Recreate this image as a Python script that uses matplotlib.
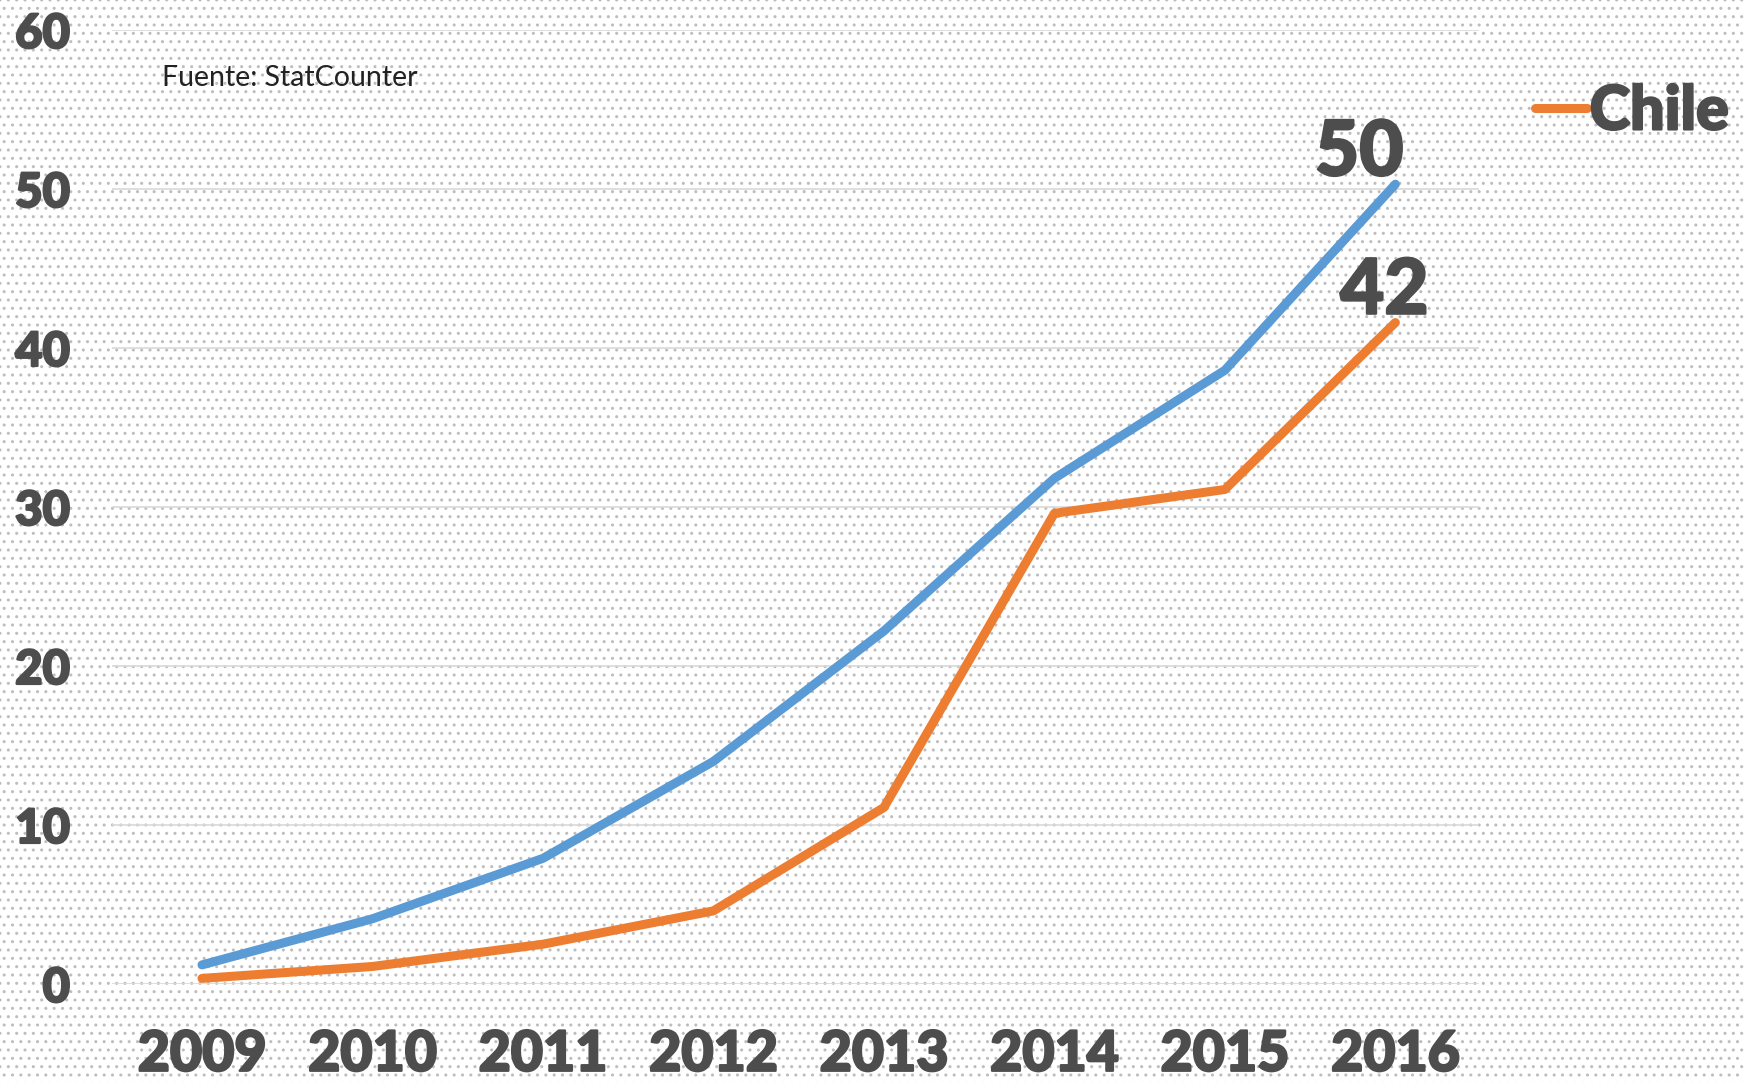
import matplotlib
matplotlib.use("Agg")
from matplotlib import pyplot as plt
from matplotlib.patches import Rectangle
import matplotlib.patheffects as pe

years = [2009, 2010, 2011, 2012, 2013, 2014, 2015, 2016]
world = [1.2, 4.1, 7.9, 14.0, 22.2, 31.8, 38.6, 50.3]
chile = [0.35, 1.1, 2.5, 4.6, 11.1, 29.6, 31.1, 41.6]
yticks = [0, 10, 20, 30, 40, 50, 60]
end_labels = ["50", "42"]

blue = "#5b9bd5"
orange = "#ed7d31"
grey = "#4d4d4d"

plt.rcParams["font.family"] = ["Lato", "DejaVu Sans"]
plt.rcParams["hatch.linewidth"] = 1.0

fig = plt.figure(figsize=(17.44, 10.82), dpi=100)
fig.patch.set_facecolor("white")
# dotted paper background
bg = Rectangle((0, 0), 1, 1, transform=fig.transFigure, facecolor="white",
               edgecolor="#bdbdbd", hatch="..", linewidth=0, zorder=-10)
fig.patches.append(bg)

ax = fig.add_axes([0.064, 0.0906, 0.784, 0.8817])
ax.set_facecolor("none")

ax.plot(years, world, color=blue, linewidth=6.5, solid_capstyle="round",
        solid_joinstyle="round", zorder=3)
ax.plot(years, chile, color=orange, linewidth=6.5, solid_capstyle="round",
        solid_joinstyle="round", zorder=3, label="Chile")

heavy = [pe.withStroke(linewidth=1.6, foreground=grey)]

ax.set_xlim(2008.47, 2016.49)
ax.set_ylim(0, 60)
ax.set_yticks(yticks)
ax.set_xticks(years)
ax.set_xticklabels([str(y) for y in years])
ax.grid(axis="y", color="#d9d9d9", linewidth=1.2)
ax.set_axisbelow(True)
for s in ax.spines.values():
    s.set_visible(False)
ax.tick_params(length=0)
ax.tick_params(axis="y", pad=30, labelsize=34, labelcolor=grey)
ax.tick_params(axis="x", pad=33, labelsize=40, labelcolor=grey)
for lab in ax.get_xticklabels() + ax.get_yticklabels():
    lab.set_fontweight("black")
    lab.set_path_effects(heavy)

ax.annotate(end_labels[0], (years[-1], world[-1]), xytext=(-26, -3),
            textcoords="offset points", ha="center", va="bottom",
            fontsize=55, fontweight="black", color=grey, path_effects=heavy)
ax.annotate(end_labels[1], (years[-1], chile[-1]), xytext=(-8, -3),
            textcoords="offset points", ha="center", va="bottom",
            fontsize=55, fontweight="black", color=grey, path_effects=heavy)

fig.text(0.093, 0.928, "Fuente: StatCounter", fontsize=20.5, color="#222222",
         va="center", ha="left")

leg = ax.legend(loc="center left", bbox_to_anchor=(0.880, 0.897), bbox_transform=fig.transFigure,
                frameon=False, handlelength=0.85, handletextpad=0.05, borderpad=0,
                borderaxespad=0, prop={"size": 44, "weight": "black"})
for t in leg.get_texts():
    t.set_color(grey)
    t.set_path_effects(heavy)

fig.savefig("out.png", dpi=100)
